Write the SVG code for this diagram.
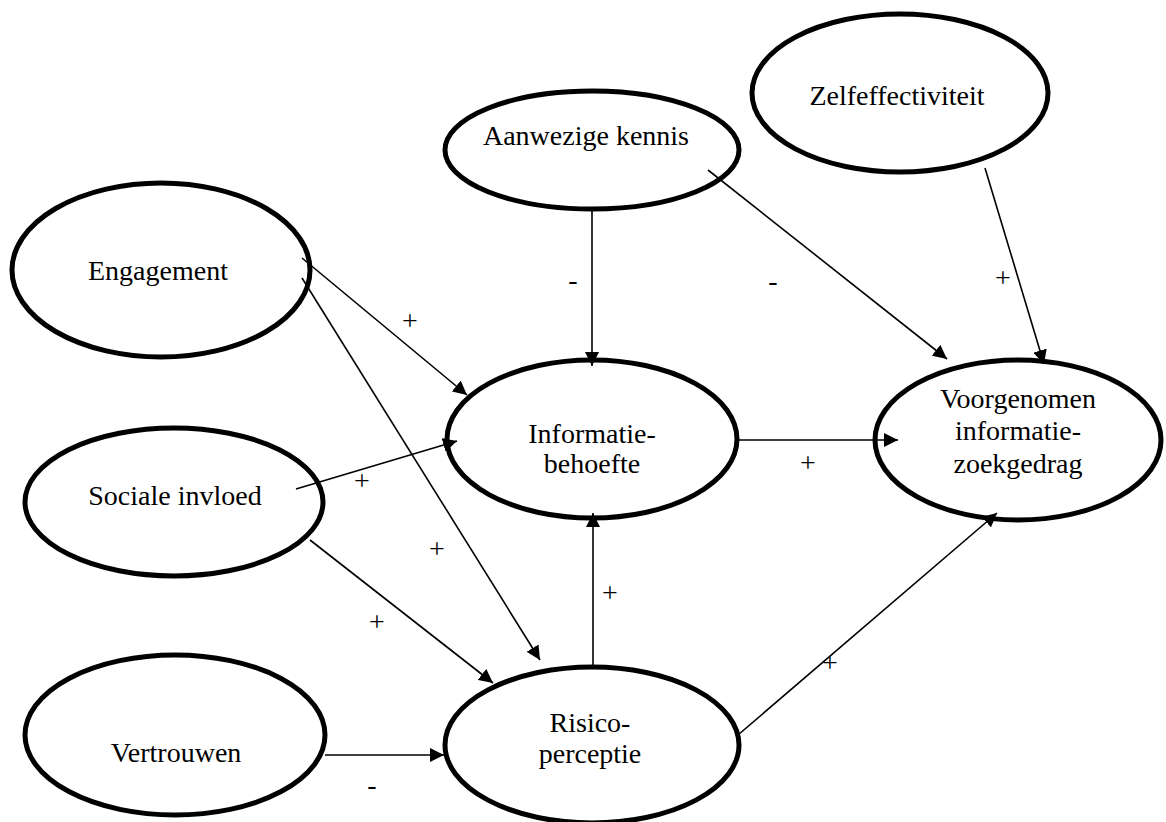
<svg xmlns="http://www.w3.org/2000/svg" width="1166" height="822" viewBox="0 0 1166 822">
<style>
.node ellipse{fill:#fff;stroke:#000;stroke-width:5}
text{font-family:'Liberation Serif','Times New Roman',serif;font-size:28px;fill:#000;text-anchor:middle}
.conn line{stroke:#000;stroke-width:1.6;marker-end:url(#ah)}
</style>
<defs>
<marker id="ah" viewBox="0 0 14 14" refX="14" refY="7" markerWidth="14" markerHeight="14" markerUnits="userSpaceOnUse" orient="auto">
<path d="M0,0 L14,7 L0,14 z" fill="#000"/>
</marker>
</defs>
<rect width="1166" height="822" fill="#fff"/>
<g class="node" id="aanwezige"><ellipse cx="592" cy="150" rx="147" ry="59"/><text x="586" y="145">Aanwezige kennis</text></g>
<g class="node" id="zelf"><ellipse cx="900" cy="93" rx="148" ry="79"/><text x="897" y="105">Zelfeffectiviteit</text></g>
<g class="node" id="engagement"><ellipse cx="161" cy="270" rx="149" ry="87"/><text x="158" y="280">Engagement</text></g>
<g class="node" id="sociale"><ellipse cx="174" cy="502" rx="149" ry="74"/><text x="175" y="505">Sociale invloed</text></g>
<g class="node" id="vertrouwen"><ellipse cx="175" cy="735" rx="150" ry="80"/><text x="176" y="762">Vertrouwen</text></g>
<g class="node" id="informatie"><ellipse cx="592" cy="439" rx="145" ry="79"/><text x="592" y="443">Informatie-</text><text x="592" y="473">behoefte</text></g>
<g class="node" id="risico"><ellipse cx="592" cy="745" rx="147" ry="78"/><text x="590" y="732">Risico-</text><text x="590" y="763">perceptie</text></g>
<g class="node" id="voorgenomen"><ellipse cx="1018" cy="440" rx="143" ry="80"/><text x="1018" y="408">Voorgenomen</text><text x="1018" y="440">informatie-</text><text x="1018" y="473">zoekgedrag</text></g>
<g class="conn" id="connectors">
<line x1="592" y1="209" x2="592" y2="366"/>
<line x1="708" y1="170" x2="947" y2="359"/>
<line x1="985" y1="168" x2="1044" y2="364"/>
<line x1="302" y1="258" x2="467" y2="395"/>
<line x1="302" y1="278" x2="540" y2="660"/>
<line x1="296" y1="489" x2="457" y2="441"/>
<line x1="310" y1="540" x2="493" y2="683"/>
<line x1="325" y1="755" x2="444" y2="755"/>
<line x1="737" y1="440" x2="898" y2="440"/>
<line x1="593" y1="667" x2="593" y2="513"/>
<line x1="738" y1="735" x2="997" y2="513"/>
</g>
<g id="labels">
<text x="573" y="289">-</text>
<text x="773" y="290">-</text>
<text x="1003" y="287">+</text>
<text x="410" y="330">+</text>
<text x="437" y="558">+</text>
<text x="362" y="490">+</text>
<text x="377" y="631">+</text>
<text x="610" y="602">+</text>
<text x="808" y="472">+</text>
<text x="830" y="672">+</text>
<text x="372" y="794">-</text>
</g>
</svg>
